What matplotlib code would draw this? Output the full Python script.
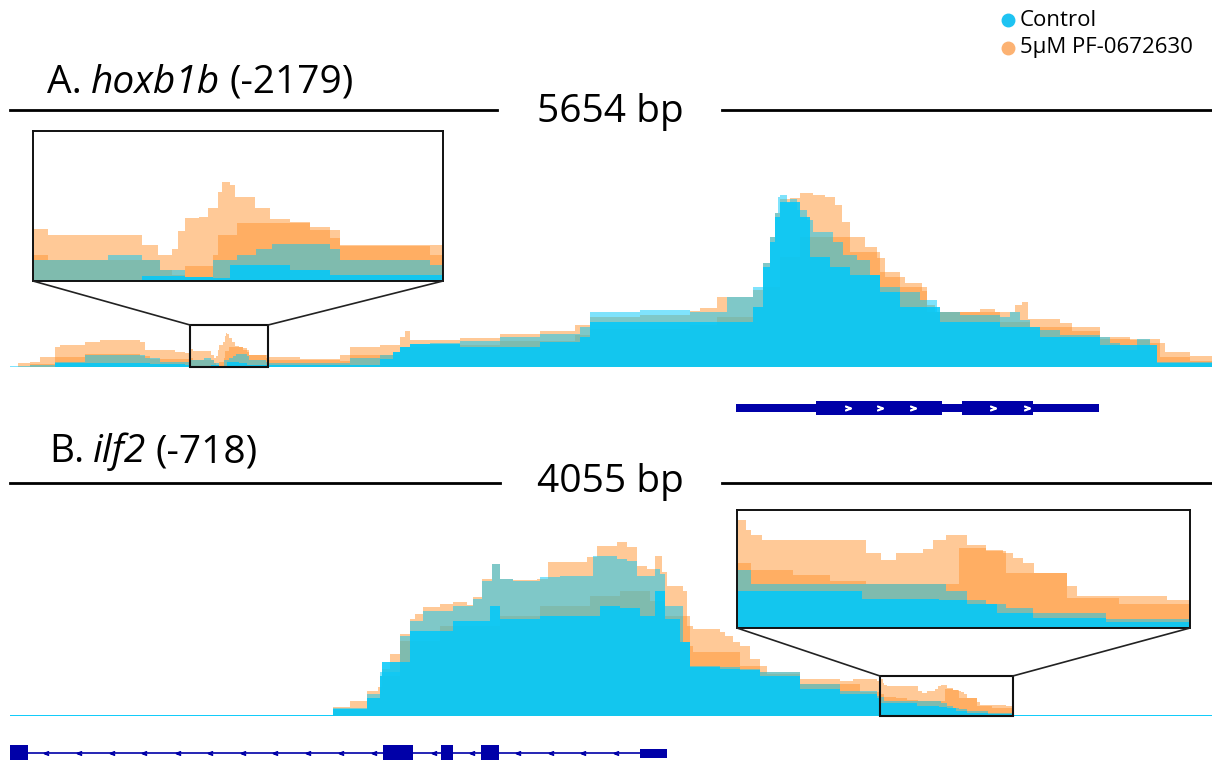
import matplotlib

matplotlib.use("Agg")
import matplotlib.pyplot as plt
from matplotlib.patches import Rectangle, ConnectionPatch
from matplotlib.lines import Line2D

plt.rcParams["font.family"] = ["Open Sans", "DejaVu Sans"]

W, H = 1212, 760
CYAN = "#00C8FA"
ORANGE = "#FF9530"
GENE = "#0000A8"

# ---------------- track A: hoxb1b, 5654 bp ----------------
a_len = 5654
a_org_hi_x = [0, 38, 94, 141, 212, 235, 353, 423, 612, 635, 776, 823,
              847, 860, 945, 959, 971, 977, 983, 996, 1004, 1013, 1016, 1023, 1028,
              1046, 1059, 1077, 1095, 1113, 1122,
              1214, 1364, 1552, 1599, 1740, 1835, 1858, 1882, 1976, 2117, 2305, 2493,
              2658, 2728, 2964, 3199, 3246, 3326, 3495, 3542, 3575, 3599, 3622, 3669,
              3716, 3777, 3834, 3881, 3914, 3951, 4022, 4078, 4116, 4210, 4290, 4314,
              4351, 4563, 4633, 4728, 4760, 4789, 4939, 4996, 5127, 5268, 5363, 5433,
              5551, 5654]
a_org_hi = [0, 4, 5, 10, 20, 22, 25, 27, 25, 17, 15, 14,
            17.9, 15.8, 12.3, 8.9, 11, 17, 21.6, 22, 25, 30.6, 34, 33, 28.8,
            25, 21.3, 20.2, 18.7, 14.7, 12.3,
            10, 8, 12, 20, 22, 30, 36, 27, 27, 29, 33, 36,
            42, 50, 52, 56, 59, 70, 77, 104, 130, 154, 168, 169,
            174, 172, 170, 162, 145, 130, 120, 109, 90, 84, 76, 62,
            55, 58, 55, 62, 65, 48, 44, 36, 30, 27, 24, 15,
            11, 11]

a_org_lo_x = [0, 94, 212, 353, 612, 659, 823,
              847, 860, 961, 971, 983, 1008, 1013, 1030, 1095, 1122, 1202,
              1214, 1552, 1599, 1835, 1976, 2305, 2658, 2728, 3199, 3326, 3495,
              3542, 3622, 3716, 3834, 3951, 4092, 4187, 4314, 4657, 4798, 5127,
              5410, 5551, 5654]
a_org_lo = [0, 3, 10, 13, 11, 8, 8,
            8.9, 7.2, 3.8, 2, 5, 8.9, 15.8, 20, 17.5, 12, 9,
            7, 6, 12, 20, 22, 26, 32, 38, 42, 50, 60,
            80, 110, 130, 130, 115, 95, 80, 55, 45, 40, 28,
            10, 6, 6]

a_cyn_hi_x = [0, 94, 212, 353, 612, 635, 706, 823,
              847, 914, 945, 961, 983, 1008, 1030, 1047, 1061, 1113, 1122, 1202,
              1214, 1599, 1740, 1802, 1835, 1882, 1976, 2117, 2305, 2493, 2681,
              2728, 2964, 3199, 3373, 3495, 3542, 3575, 3599, 3613, 3622, 3655,
              3669, 3702, 3749, 3777, 3871, 3918, 3984, 4045, 4092, 4187, 4281,
              4361, 4469, 4657, 4704, 4751, 4798, 4939, 5127, 5174, 5221, 5301,
              5363, 5396, 5654]
a_cyn_hi = [1.5, 2, 5, 12, 12, 9, 5, 5,
            7.2, 8.9, 7.2, 3.8, 1.4, 7.2, 8.9, 11, 12.7, 11, 7.2, 5.5,
            4, 9, 12, 15, 20, 23, 24, 26, 30, 33, 40,
            55, 57, 55, 70, 80, 104, 130, 154, 170, 172, 164,
            168, 157, 147, 135, 125, 112, 107, 92, 80, 75, 67,
            55, 52, 50, 55, 47, 37, 32, 30, 24, 17, 28,
            17, 5, 2]

a_cyn_lo_x = [0, 212, 659, 823,
              847, 945, 983, 1008, 1023, 1077, 1113,
              1214, 1740, 1802, 1835, 1882, 2117, 2493, 2681, 2728, 3246, 3495,
              3542, 3575, 3599, 3622, 3716, 3763, 3857, 3951, 4092, 4187, 4375,
              4657, 4845, 5127, 5396, 5654]
a_cyn_lo = [0.5, 4, 3, 2,
            0.3, 1.7, 1.4, 1, 5.5, 3.8, 2,
            2, 8, 15, 20, 23, 20, 25, 30, 45, 45, 60,
            100, 125, 150, 165, 150, 110, 100, 92, 75, 60, 45,
            40, 30, 22, 4, 1]

a_zoom = (847, 1214)
a_utr = (3415, 5123)
a_exons = [(3791, 4384), (4478, 4812)]
a_chevrons = [3942, 4092, 4248, 4624, 4784]
a_intron_arrows = [4455]

# ---------------- track B: ilf2, 4055 bp ----------------
b_len = 4055
b_org_hi_x = [0, 1012, 1089, 1147, 1204, 1241, 1255, 1282, 1315, 1349, 1366,
              1393, 1450, 1494, 1541, 1562, 1592, 1626, 1653, 1697, 1778, 1815,
              1865, 1946, 1980, 2047, 2081, 2115, 2149, 2176, 2199, 2216, 2270,
              2284, 2304, 2395, 2412, 2439, 2462, 2496, 2530, 2553, 2665, 2800,
              2843, 2924,
              2935, 2944, 2949, 2960, 3063, 3077, 3092, 3119, 3129, 3142, 3162,
              3181, 3198, 3208, 3218, 3229, 3261, 3271, 3360, 3383, 4055]
b_org_hi = [0, 0.5, 9, 15, 25, 29, 47, 62, 82, 97, 102,
            109, 112, 114, 111, 119, 137, 152, 137, 136, 137, 154,
            154, 159, 170, 174, 169, 150, 147, 160, 144, 130, 125,
            90, 87, 84, 80, 74, 70, 57, 50, 42, 37, 35,
            37, 35,
            36.6, 33.2, 31.5, 29.8, 25.3, 22.9, 25.3, 26.7, 29.8, 31.5, 28,
            26.3, 25.3, 23.6, 21.9, 18.5, 14.4, 10.9, 9.6, 0, 0]

b_org_lo_x = [0, 1012, 1089, 1204, 1248, 1315, 1450, 1653, 1788, 1956, 2058,
              2159, 2209, 2294, 2304, 2395, 2462, 2530, 2665, 2867,
              2935, 2949, 2990, 3027, 3063, 3155, 3181, 3201, 3261, 3313, 3383, 4055]
b_org_lo = [0, 0.3, 6, 18, 40, 75, 90, 100, 110, 120, 125,
            115, 100, 70, 64, 64, 50, 44, 32, 24,
            21.9, 19.5, 18.1, 16.1, 15, 27, 26, 18.5, 10.3, 8, 0, 0]

b_cyn_hi_x = [0, 1012, 1089, 1204, 1248, 1315, 1349, 1393, 1494, 1562, 1592,
              1626, 1653, 1697, 1788, 1855, 1966, 2047, 2081, 2115, 2159, 2176,
              2192, 2209, 2270, 2294, 2395, 2462, 2530, 2665, 2800, 2924,
              2935, 2949, 3142, 3162, 3181, 3201, 3228, 3300, 3383, 4055]
b_cyn_hi = [1.5, 1.5, 8, 22, 44, 80, 95, 105, 110, 117, 135,
            152, 137, 135, 139, 140, 160, 157, 155, 140, 140, 147,
            142, 110, 74, 50, 49, 47, 44, 32, 25, 20,
            19.5, 15, 12.7, 9.6, 8.2, 6.8, 5.1, 3.1, 1.5, 1.5]

b_cyn_lo_x = [0, 1012, 1089, 1204, 1248, 1255, 1349, 1494, 1619, 1653, 1788,
              1990, 2058, 2125, 2176, 2209, 2260, 2294, 2395, 2462, 2530, 2665,
              2800, 2924,
              2935, 3059, 3135, 3162, 3192, 3228, 3300, 3383, 4055]
b_cyn_lo = [0.8, 0.8, 7, 18, 40, 54, 85, 95, 110, 97, 100,
            110, 108, 100, 125, 97, 74, 49, 47, 46, 40, 27,
            22, 18,
            12.7, 10, 9.5, 8, 5, 3.4, 2, 0.8, 0.8]

b_zoom = (2935, 3383)
b_exons = [(0, 61), (1258, 1359), (1454, 1494), (1589, 1649)]
b_utr = (2125, 2216)
b_intron = (61, 2125)
b_intron_arrows = [121, 233, 344, 452, 567, 675, 786, 894, 1005, 1116, 1228,
                   1430, 1558, 1713, 1825, 1933, 2044]


def px_box(x0, y0, x1, y1):
    """Pixel box (top-left origin) -> figure-fraction rect."""
    return [x0 / W, 1 - y1 / H, (x1 - x0) / W, (y1 - y0) / H]


def draw_coverage(ax, series):
    for xs, ys, color, alpha in series:
        ax.fill_between(xs, ys, step="post", color=color, alpha=alpha, lw=0)


def add_inset(fig, main_ax, box, xlim, ylim_in, box_h, series):
    ins = fig.add_axes(box)
    draw_coverage(ins, series)
    ins.set_xlim(*xlim)
    ins.set_ylim(0, ylim_in)
    ins.set_xticks([])
    ins.set_yticks([])
    for sp in ins.spines.values():
        sp.set_linewidth(1.4)
        sp.set_color("#111111")
    main_ax.add_patch(Rectangle((xlim[0], 0), xlim[1] - xlim[0], box_h, fill=False,
                                ec="#111111", lw=1.5, clip_on=False, zorder=5))
    for fx, dx in ((0, xlim[0]), (1, xlim[1])):
        con = ConnectionPatch(xyA=(fx, 0), coordsA="axes fraction", axesA=ins,
                              xyB=(dx, box_h), coordsB="data", axesB=main_ax,
                              color="#222222", lw=1.2)
        fig.add_artist(con)
    return ins


def title_parts(fig, x, y, parts, size=28):
    """Write plain/italic pieces one after another on a common baseline."""
    r = fig.canvas.get_renderer()
    for txt, style in parts:
        t = fig.text(x / W, 1 - y / H, txt, fontsize=size, style=style,
                     va="baseline", ha="left")
        x = t.get_window_extent(r).x1 + 9


fig = plt.figure(figsize=(W / 100, H / 100), dpi=100)

series_a = [(a_org_hi_x, a_org_hi, ORANGE, 0.5), (a_org_lo_x, a_org_lo, ORANGE, 0.5),
            (a_cyn_hi_x, a_cyn_hi, CYAN, 0.5), (a_cyn_lo_x, a_cyn_lo, CYAN, 0.85)]
series_b = [(b_org_hi_x, b_org_hi, ORANGE, 0.5), (b_org_lo_x, b_org_lo, ORANGE, 0.5),
            (b_cyn_hi_x, b_cyn_hi, CYAN, 0.5), (b_cyn_lo_x, b_cyn_lo, CYAN, 0.85)]

# coverage tracks (1 y-unit == 1 px)
ax_a = fig.add_axes(px_box(10, 187, 1212, 367))
draw_coverage(ax_a, series_a)
ax_a.set_xlim(0, a_len)
ax_a.set_ylim(0, 180)
ax_a.set_axis_off()

ax_b = fig.add_axes(px_box(10, 536, 1212, 716))
draw_coverage(ax_b, series_b)
ax_b.set_xlim(0, b_len)
ax_b.set_ylim(0, 180)
ax_b.set_axis_off()

# gene models
gx_a = fig.add_axes(px_box(10, 388, 1212, 428), sharex=ax_a)
gx_a.set_ylim(-20, 20)
gx_a.set_axis_off()
gx_a.barh(0, a_utr[1] - a_utr[0], left=a_utr[0], height=8, color=GENE)
gx_a.plot([a_exons[0][1], a_exons[1][0]], [0, 0], color=GENE, lw=1.2)
for s, e in a_exons:
    gx_a.barh(0, e - s, left=s, height=14, color=GENE)
gx_a.plot(a_chevrons, [0] * len(a_chevrons), ls="none", marker="$>$",
          ms=4, color="white")
gx_a.plot(a_intron_arrows, [0] * len(a_intron_arrows), ls="none", marker="$>$",
          ms=4, color=GENE)

gx_b = fig.add_axes(px_box(10, 733, 1212, 773), sharex=ax_b)
gx_b.set_ylim(-20, 20)
gx_b.set_axis_off()
gx_b.plot(b_intron, [0, 0], color=GENE, lw=1.2)
for s, e in b_exons:
    gx_b.barh(0, e - s, left=s, height=16, color=GENE)
gx_b.barh(0, b_utr[1] - b_utr[0], left=b_utr[0], height=9, color=GENE)
gx_b.plot(b_intron_arrows, [0] * len(b_intron_arrows), ls="none", marker="$<$",
          ms=3, color=GENE)

# zoom insets
add_inset(fig, ax_a, px_box(33, 131, 443, 281), a_zoom, 51.5, 42, series_a)
add_inset(fig, ax_b, px_box(737, 510, 1190, 628), b_zoom, 40, 40, series_b)

# headers
title_parts(fig, 47, 93, [("A.", "normal"), ("hoxb1b", "italic"), ("(-2179)", "normal")])
title_parts(fig, 49, 462, [("B.", "normal"), ("ilf2", "italic"), ("(-718)", "normal")])
fig.text(610 / W, 1 - 122 / H, "5654 bp", fontsize=28, va="baseline", ha="center")
fig.text(610 / W, 1 - 492 / H, "4055 bp", fontsize=28, va="baseline", ha="center")
for y, (l0, l1), (r0, r1) in ((110, (10, 497), (722, 1212)),
                              (483, (10, 500), (722, 1212))):
    for x0, x1 in ((l0, l1), (r0, r1)):
        fig.add_artist(Line2D([x0 / W, x1 / W], [1 - y / H, 1 - y / H],
                              color="black", lw=2))

# legend
for y, c, lab in ((20, "#1EC3F2", "Control"), (48, "#FCB272", "5µM PF-0672630")):
    fig.add_artist(Line2D([1008 / W], [1 - y / H], marker="o", ms=9,
                          color=c, ls="none"))
    fig.text(1020 / W, 1 - y / H, lab, fontsize=16, va="center", ha="left")

fig.savefig("out.png", dpi=100)
